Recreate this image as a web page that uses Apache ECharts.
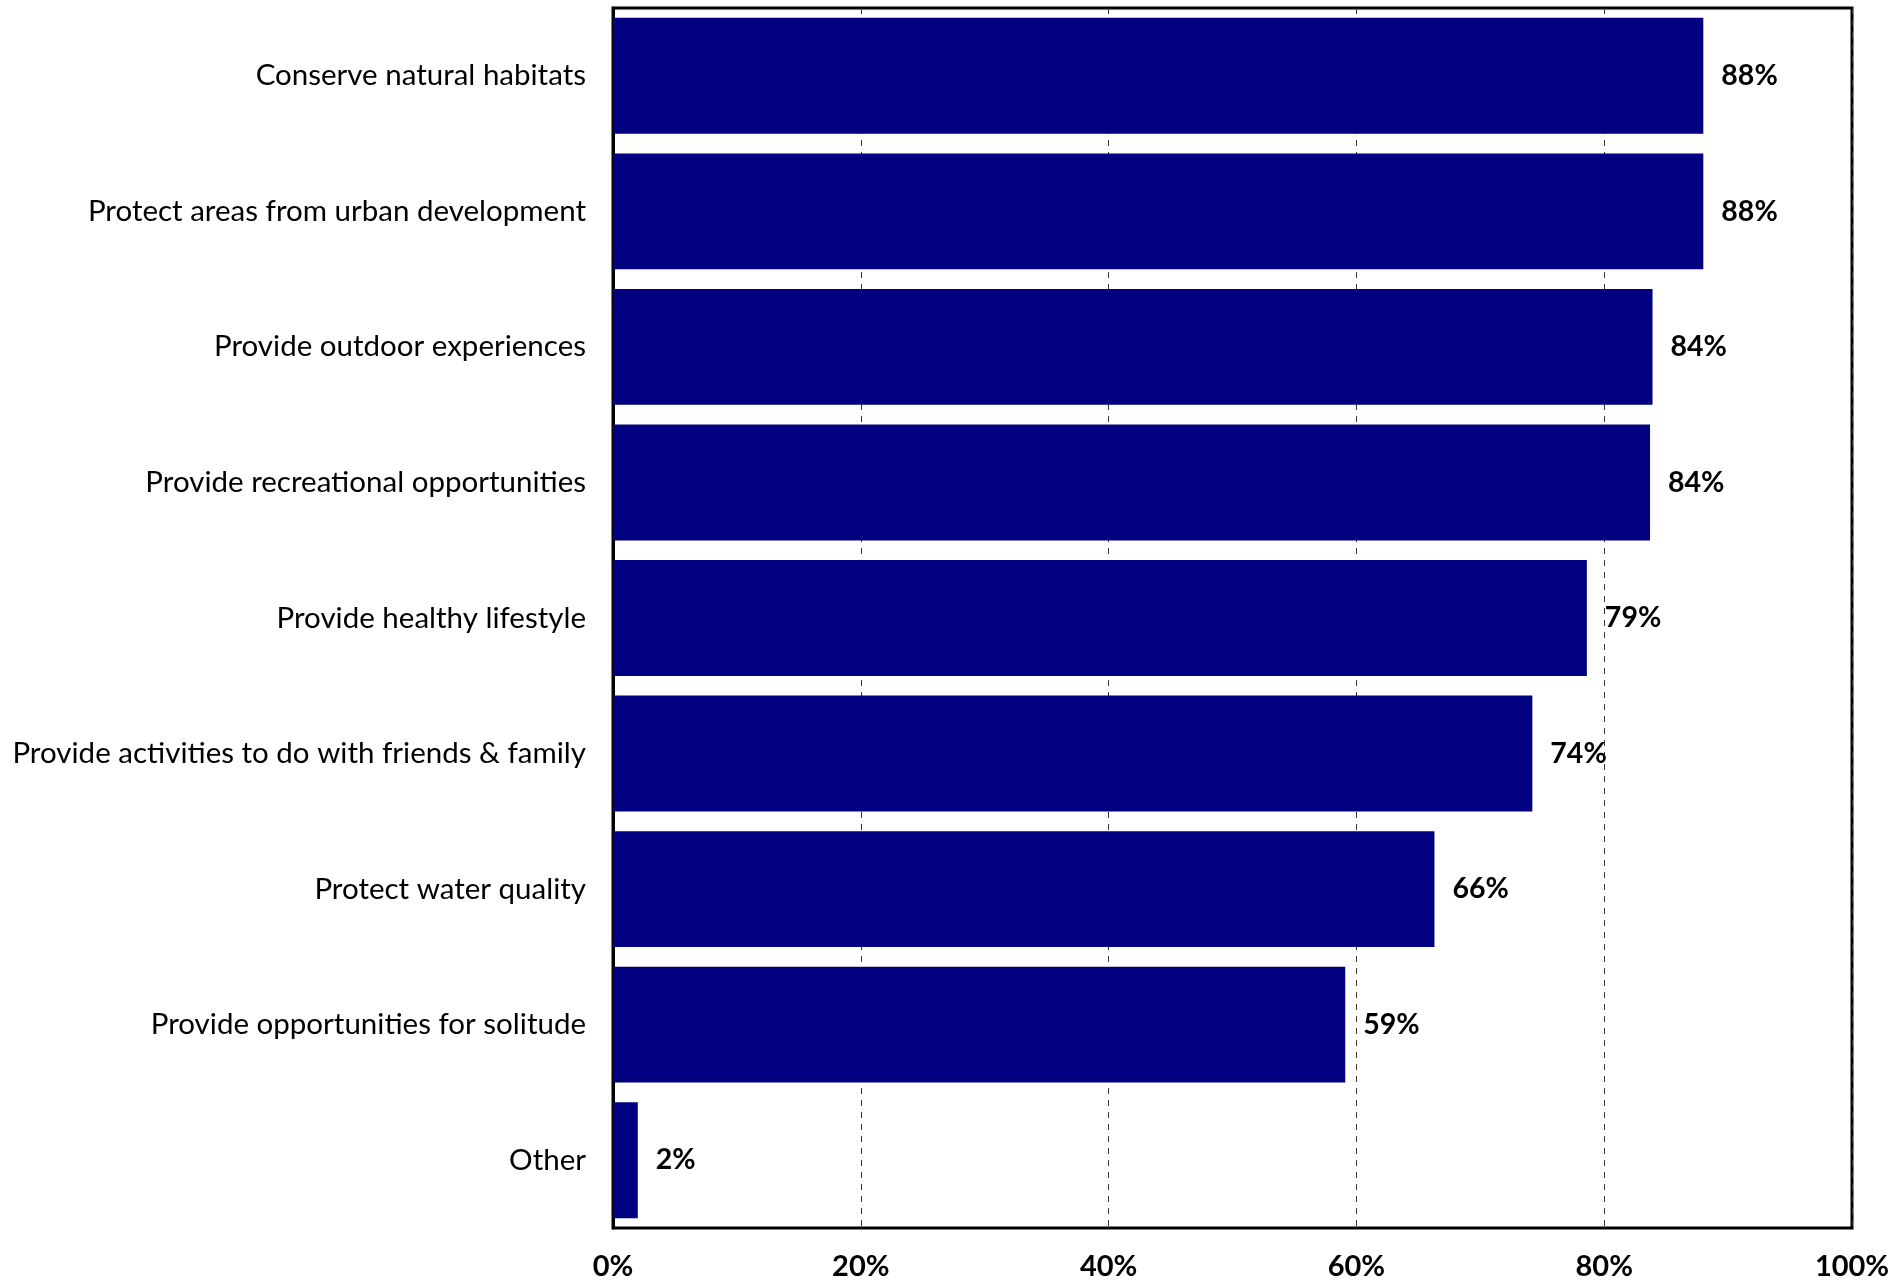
<!DOCTYPE html>
<html>
<head>
<meta charset="utf-8">
<script src="https://cdn.jsdelivr.net/npm/echarts@6/dist/echarts.min.js"></script>
<style>html,body{margin:0;padding:0;background:#fff;}#c{width:1898px;height:1281px;}</style>
</head>
<body>
<div id="c"></div>
<script>
const categories = [
  "Conserve natural habitats",
  "Protect areas from urban development",
  "Provide outdoor experiences",
  "Provide recreational opportunities",
  "Provide healthy lifestyle",
  "Provide activities to do with friends & family",
  "Protect water quality",
  "Provide opportunities for solitude",
  "Other"
];
const values = [88.0, 88.0, 83.9, 83.7, 78.6, 74.2, 66.3, 59.1, 2.0];
const xTicks = [0, 20, 40, 60, 80, 100];

const FONT = "Lato";
const chart = echarts.init(document.getElementById('c'), null, {renderer: 'canvas'});
chart.setOption({
  animation: false,
  backgroundColor: '#ffffff',
  grid: {
    left: 613, right: 46, top: 8, bottom: 53,
    show: true, borderColor: '#000', borderWidth: 3, backgroundColor: 'transparent',
    containLabel: false
  },
  xAxis: {
    type: 'value', min: 0, max: 100, interval: 20,
    axisLine: {show: false},
    axisTick: {show: false},
    splitLine: {show: true, lineStyle: {color: '#333', width: 1, type: [6, 6]}},
    axisLabel: {
      margin: 24,
      fontFamily: FONT, fontWeight: 'bold', fontSize: 29, color: '#000',
      formatter: v => xTicks.includes(v) ? v + '%' : ''
    }
  },
  yAxis: {
    type: 'category', data: categories, inverse: true,
    axisLine: {show: true, lineStyle: {color: '#000', width: 3}},
    axisTick: {show: false},
    axisLabel: {margin: 27, fontFamily: FONT, fontSize: 29.5, color: '#000', padding: [5, 0, 0, 0]}
  },
  series: [{
    type: 'bar', data: values, barCategoryGap: '14.5%',
    itemStyle: {color: '#000080'},
    label: {
      show: true, position: 'right', distance: 18,
      fontFamily: FONT, fontWeight: 'bold', fontSize: 28.5, color: '#000',
      padding: [5, 0, 0, 0],
      formatter: p => Math.round(p.value) + '%'
    }
  }]
});
</script>
</body>
</html>
